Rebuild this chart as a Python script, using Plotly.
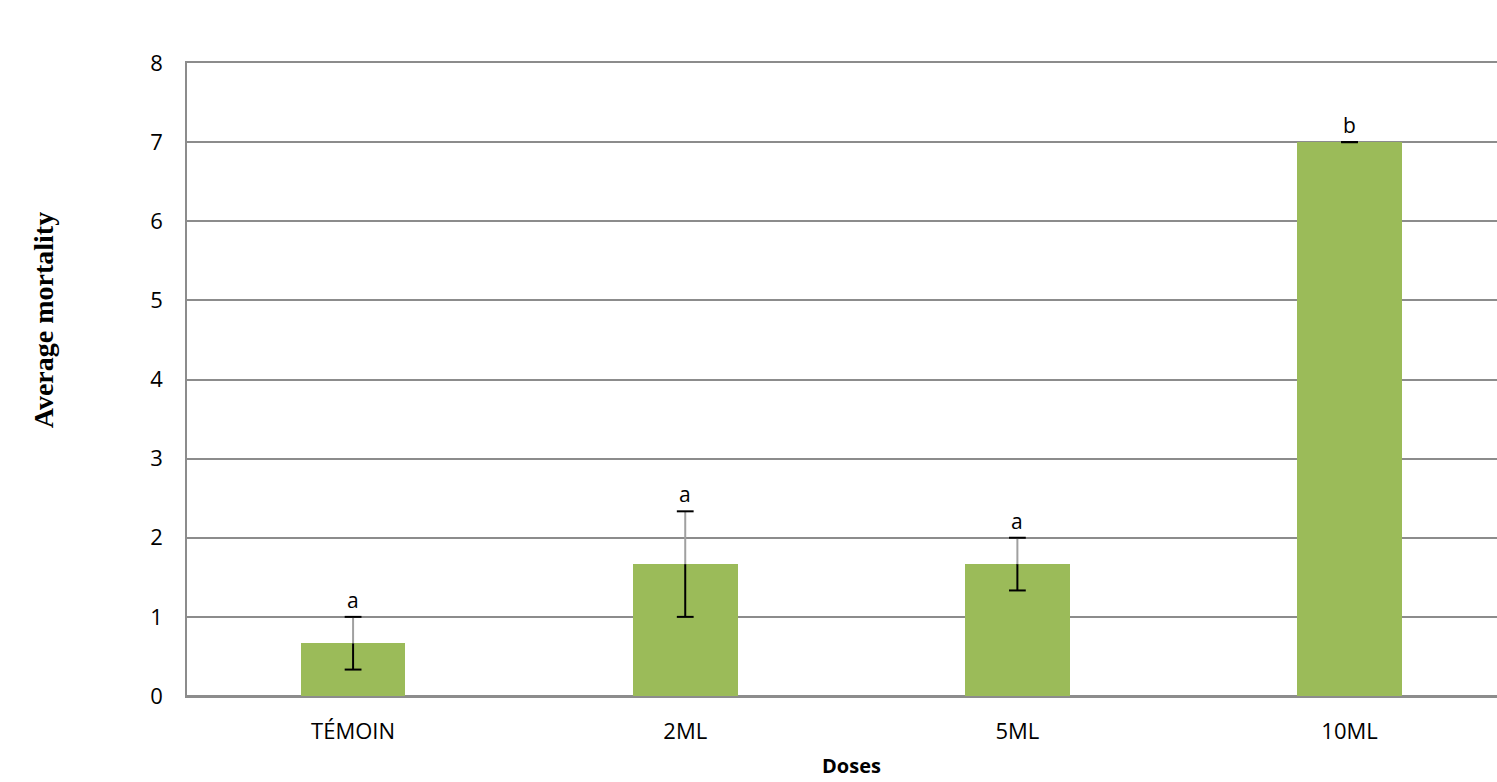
import plotly.graph_objects as go

# Mean mortality per dose with standard error and significance letters
doses = ["TÉMOIN", "2ML", "5ML", "10ML"]
mean_mortality = [0.667, 1.667, 1.667, 7.0]
std_error = [0.333, 0.667, 0.333, 0.0]
group_letters = ["a", "a", "a", "b"]

y_ticks = [0, 1, 2, 3, 4, 5, 6, 7, 8]

BAR_GREEN = "#9BBB59"
GRID_GRAY = "#8C8C8C"
TEXT_FONT = "Open Sans"

upper = [m + e for m, e in zip(mean_mortality, std_error)]
lower = [m - e for m, e in zip(mean_mortality, std_error)]

fig = go.Figure()

fig.add_trace(go.Bar(
    x=doses, y=mean_mortality, width=0.315,
    marker=dict(color=BAR_GREEN, line=dict(width=0)),
    hoverinfo="skip", showlegend=False,
))

# lower half of the error bar (inside the bar): black
fig.add_trace(go.Scatter(
    x=doses, y=mean_mortality, mode="markers",
    marker=dict(size=1, opacity=0),
    error_y=dict(type="data", symmetric=False, array=[0] * len(doses),
                 arrayminus=std_error, color="black", thickness=2, width=0),
    hoverinfo="skip", showlegend=False,
))

# upper half of the error bar (above the bar): grey
fig.add_trace(go.Scatter(
    x=doses, y=mean_mortality, mode="markers",
    marker=dict(size=1, opacity=0),
    error_y=dict(type="data", symmetric=False, array=std_error,
                 arrayminus=[0] * len(doses), color="#A0A0A0", thickness=2, width=0),
    hoverinfo="skip", showlegend=False,
))

# end caps
fig.add_trace(go.Scatter(
    x=doses + doses, y=upper + lower, mode="markers",
    marker=dict(symbol="line-ew", size=12, color="black",
                line=dict(color="black", width=2)),
    hoverinfo="skip", showlegend=False,
))

for d, top, letter in zip(doses, upper, group_letters):
    fig.add_annotation(
        x=d, y=top, text=letter, showarrow=False,
        yanchor="bottom", yshift=1,
        font=dict(family=TEXT_FONT, size=21, color="black"),
    )

fig.add_annotation(
    x=1.5, xref="x", y=-0.134, yref="paper", text="<b>Doses</b>",
    showarrow=False, yanchor="bottom",
    font=dict(family=TEXT_FONT, size=20, color="black"),
)

fig.add_annotation(
    x=-0.109, xref="paper", y=0.594, yref="paper",
    text="<b>Average mortality</b>", textangle=-90, showarrow=False,
    xanchor="center", yanchor="middle",
    font=dict(family="Liberation Serif", size=28, color="black"),
)

fig.update_layout(
    width=1497, height=782,
    margin=dict(l=187, r=0, t=63, b=86),
    paper_bgcolor="white", plot_bgcolor="white",
    bargap=0,
    xaxis=dict(
        range=[-0.5, 3.444], showgrid=False, zeroline=False,
        showline=True, mirror=True, linecolor=GRID_GRAY, linewidth=1.5,
        ticks="", ticklabelstandoff=15,
        tickfont=dict(family=TEXT_FONT, size=22, color="black"),
        fixedrange=True,
    ),
    yaxis=dict(
        range=[0, 8], tickvals=y_ticks, showgrid=True,
        gridcolor=GRID_GRAY, gridwidth=1.5,
        zeroline=True, zerolinecolor=GRID_GRAY, zerolinewidth=1.5,
        showline=True, linecolor=GRID_GRAY, linewidth=1.5,
        ticks="", ticklabelstandoff=18,
        tickfont=dict(family=TEXT_FONT, size=22, color="black"),
        fixedrange=True,
    ),
)

fig.write_html("out.html")
